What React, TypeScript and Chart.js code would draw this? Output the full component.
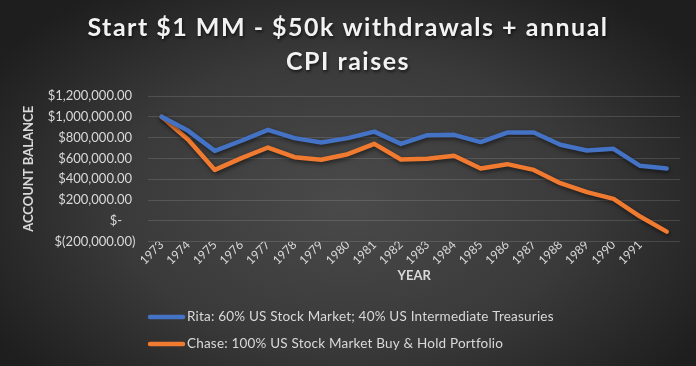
import React, { useEffect, useRef } from "react";
import { Chart, registerables } from "chart.js";

Chart.register(...registerables);

const years = ["1973","1974","1975","1976","1977","1978","1979","1980","1981","1982","1983","1984","1985","1986","1987","1988","1989","1990","1991",""];
const ritaValues = [1000000, 865000, 673000, 770000, 875000, 795000, 753000, 795000, 858000, 740000, 824000, 827000, 757000, 849000, 849000, 731000, 676000, 692000, 529000, 503000];
const chaseValues = [1000000, 780000, 490000, 603000, 705000, 612000, 587000, 641000, 740000, 590000, 598000, 626000, 503000, 545000, 490000, 362000, 276000, 212000, 42000, -103000];
const yTickLabels = ["$(200,000.00)", "$-    ", "$200,000.00 ", "$400,000.00 ", "$600,000.00 ", "$800,000.00 ", "$1,000,000.00 ", "$1,200,000.00 "];
const titleLines = ["Start $1 MM - $50k withdrawals + annual", "CPI raises"];
const seriesNames = ["Rita: 60% US Stock Market; 40% US Intermediate Treasuries", "Chase: 100% US Stock Market Buy & Hold Portfolio"];
const seriesColors = ["#4472C4", "#F07A30"];

const FONT = "Lato, 'Open Sans', sans-serif";
const TEXT = "#d9d9d9";

const decor = {
  id: "decor",
  beforeDraw(chart: any) {
    const { ctx, width, height } = chart;
    ctx.save();
    ctx.translate(width / 2, height * 0.55);
    ctx.scale(1, 0.62);
    const g = ctx.createRadialGradient(0, 0, 0, 0, 0, 420);
    g.addColorStop(0, "#4a4a4a");
    g.addColorStop(0.55, "#3a3a3a");
    g.addColorStop(1, "#1e1e1e");
    ctx.fillStyle = g;
    ctx.fillRect(-width, -height * 2, width * 2, height * 4);
    ctx.restore();
  },
  beforeDatasetsDraw(chart: any) {
    const ctx = chart.ctx;
    ctx.save();
    ctx.shadowColor = "rgba(0,0,0,0.55)";
    ctx.shadowBlur = 4;
    ctx.shadowOffsetX = 1;
    ctx.shadowOffsetY = 2;
  },
  afterDatasetsDraw(chart: any) {
    chart.ctx.restore();
  },
  afterDraw(chart: any) {
    const { ctx, width } = chart;
    ctx.save();
    // title
    ctx.font = `bold 25px ${FONT}`;
    (ctx as any).letterSpacing = "1.5px";
    ctx.fillStyle = "#f2f2f2";
    ctx.textAlign = "center";
    ctx.textBaseline = "middle";
    ctx.shadowColor = "rgba(0,0,0,0.6)";
    ctx.shadowBlur = 3;
    ctx.shadowOffsetX = 1;
    ctx.shadowOffsetY = 2;
    ctx.fillText(titleLines[0], width / 2, 28);
    ctx.fillText(titleLines[1], width / 2, 62);
    ctx.restore();
    // legend
    ctx.save();
    ctx.font = `13.5px ${FONT}`;
    (ctx as any).letterSpacing = "0.2px";
    ctx.textAlign = "left";
    ctx.textBaseline = "middle";
    const rows = [317, 344];
    chart.data.datasets.forEach((ds: any, i: number) => {
      const y = rows[i];
      ctx.strokeStyle = ds.borderColor;
      ctx.lineWidth = 4.5;
      ctx.lineCap = "round";
      ctx.beginPath();
      ctx.moveTo(150, y);
      ctx.lineTo(183, y);
      ctx.stroke();
      ctx.fillStyle = TEXT;
      ctx.fillText(ds.label, 187, y);
    });
    ctx.restore();
  },
};

export default function App() {
  const ref = useRef<HTMLCanvasElement | null>(null);
  useEffect(() => {
    if (!ref.current) return;
    const chart = new Chart(ref.current, {
      type: "line",
      data: {
        labels: years,
        datasets: [
          { label: seriesNames[0], data: ritaValues, borderColor: seriesColors[0], backgroundColor: seriesColors[0], borderWidth: 4.5, pointRadius: 0, tension: 0, borderJoinStyle: "round", borderCapStyle: "round" },
          { label: seriesNames[1], data: chaseValues, borderColor: seriesColors[1], backgroundColor: seriesColors[1], borderWidth: 4.5, pointRadius: 0, tension: 0, borderJoinStyle: "round", borderCapStyle: "round" },
        ],
      },
      plugins: [decor],
      options: {
        animation: false,
        responsive: false,
        maintainAspectRatio: false,
        layout: { padding: { left: 0, right: 16, top: 96, bottom: 0 } },
        plugins: {
          legend: { display: false },
          title: { display: false },
          tooltip: { enabled: false },
        },
        scales: {
          x: {
            offset: true,
            grid: { display: false },
            border: { display: false },
            ticks: {
              color: TEXT,
              font: { family: FONT, size: 12 },
              minRotation: 45,
              maxRotation: 45,
              autoSkip: false,
              padding: -12,
            },
            title: {
              display: true,
              text: "YEAR",
              color: TEXT,
              font: { family: FONT, size: 13, weight: "bold" },
              padding: { top: 0, bottom: 82 },
            },
            afterFit(scale: any) {
              scale.height = 124.3;
            },
          },
          y: {
            min: -200000,
            max: 1200000,
            border: { display: false },
            grid: { color: "rgba(217,217,217,0.16)", drawTicks: false, lineWidth: 1 },
            ticks: {
              stepSize: 200000,
              color: TEXT,
              font: { family: FONT, size: 13 },
              padding: 13,
              callback: (_v: any, i: number) => yTickLabels[i],
            },
            title: {
              display: true,
              text: "ACCOUNT BALANCE",
              color: TEXT,
              font: { family: FONT, size: 13, weight: "bold" },
              padding: { top: 21, bottom: 0 },
            },
            afterFit(scale: any) {
              scale.width = 148.4;
            },
          },
        },
      },
    } as any);
    return () => chart.destroy();
  }, []);
  return (
    <div style={{ position: "fixed", left: 0, top: 0, width: 696, height: 366, background: "#2e2e2e" }}>
      <canvas ref={ref} width={696} height={366} style={{ display: "block", width: 696, height: 366 }} />
    </div>
  );
}
